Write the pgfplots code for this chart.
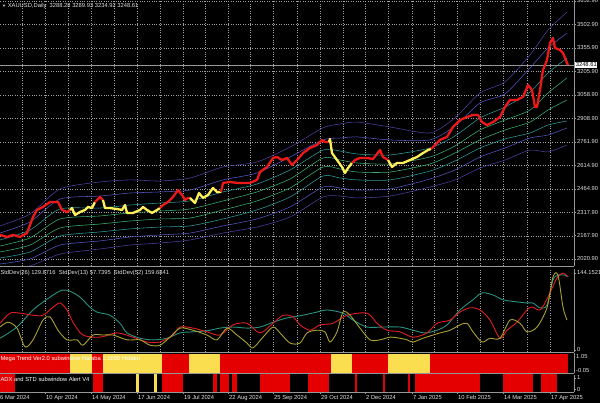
\documentclass[border=0pt]{standalone}
\usepackage{pgfplots}
\pgfplotsset{compat=1.18}
\usepackage{fontspec}
\setmainfont{Liberation Sans}

\definecolor{bandpurple}{RGB}{80,60,160}
\definecolor{bandblue}{RGB}{85,85,195}
\definecolor{bandteal}{RGB}{45,155,155}
\definecolor{bandgreen}{RGB}{60,175,115}
\definecolor{candred}{RGB}{235,25,25}
\definecolor{candyel}{RGB}{255,240,90}
\definecolor{sdteal}{RGB}{40,145,130}
\definecolor{sdred}{RGB}{225,30,30}
\definecolor{sdolive}{RGB}{170,160,50}
\definecolor{mtred}{RGB}{228,0,0}
\definecolor{mtyel}{RGB}{250,222,80}
\definecolor{txt}{RGB}{225,225,225}
\definecolor{frame}{RGB}{150,150,150}

\newcommand\mtfont{\fontsize{5.8}{7}\selectfont}

\pgfplotsset{
  mt/.style={
    scale only axis, width=576pt, xmin=-2, xmax=574,
    anchor=south west,
    axis x line=bottom, axis y line=right,
    axis line style={draw=frame, line width=0.8pt},
    x axis line style={-}, y axis line style={-},
    tick style={draw=frame, line width=0.5pt},
    tick align=outside, major tick length=2pt,
    tick label style={font=\mtfont, text=txt},
    yticklabel style={anchor=west, inner sep=1pt},
    xtick={-1,45,91,137,183,228,273,320,365,412,457,503,550},
    minor xtick={22,68,114,160,205,250,297,343,388,434,480,527},
    grid style={draw=gray!75, line width=0.4pt, dash pattern=on 0.8pt off 1.6pt},
  },
  nox/.style={xticklabel={\mbox{}}, major x tick style={draw=none}, minor x tick style={draw=none}},
  band/.style={line width=0.55pt, smooth, tension=0.4},
  price/.style={line width=2.3pt, line join=round},
  sd/.style={line width=0.9pt, smooth, tension=0.5},
}

\begin{document}
\begin{tikzpicture}[x=1pt,y=1pt]
\clip (0,0) rectangle (600,403);
\fill[black] (0,0) rectangle (600,403);

% ---------- price window ----------
\begin{axis}[mt, nox, at={(-2pt,137pt)}, height=266pt,
  ymin=1976.5, ymax=3659.2,
  ytick={2020.9,2167.9,2317.9,2464.9,2614.9,2761.9,2908.9,3058.9,3205.9,3355.9,3502.9,3652.9},
  yticklabels={2020.90,2167.90,2317.90,2464.90,2614.90,2761.90,2908.90,3058.90,3205.90,3355.90,3502.90,3652.90},
  xmajorgrids, xminorgrids, ymajorgrids]

% bands, top to bottom
\addplot[band, bandpurple] coordinates {(0,2230)(30,2305)(60,2464)(100,2508)(130,2521)(160,2514)(190,2533)(223,2603)(257,2634)(290,2729)(323,2850)(340,2875)(357,2887)(390,2856)(430,2818)(455,2913)(480,3071)(505,3141)(530,3311)(548,3469)(567,3583)};
\addplot[band, bandblue] coordinates {(0,2185)(30,2255)(60,2400)(100,2419)(130,2438)(160,2445)(190,2457)(223,2521)(257,2565)(290,2666)(323,2774)(340,2786)(357,2793)(390,2774)(430,2774)(455,2862)(480,3008)(505,3065)(530,3229)(548,3356)(567,3450)};
\addplot[band, bandteal] coordinates {(0,2141)(30,2204)(60,2337)(100,2343)(130,2362)(160,2375)(190,2388)(223,2445)(257,2495)(290,2584)(323,2710)(340,2704)(357,2685)(390,2679)(430,2723)(455,2799)(480,2913)(505,2982)(530,3077)(548,3197)(567,3292)};
\addplot[band, bandgreen] coordinates {(0,2103)(30,2154)(60,2274)(100,2293)(130,2312)(160,2324)(190,2337)(223,2388)(257,2445)(290,2527)(323,2660)(340,2647)(357,2628)(390,2622)(430,2666)(455,2736)(480,2837)(505,2900)(530,2963)(548,3071)(567,3166)};
\addplot[band, bandgreen] coordinates {(0,2065)(30,2109)(60,2217)(100,2242)(130,2261)(160,2274)(190,2280)(223,2331)(257,2388)(290,2470)(323,2603)(340,2590)(357,2571)(390,2571)(430,2622)(455,2691)(480,2774)(505,2837)(530,2887)(548,2963)(567,3027)};
\addplot[band, bandteal] coordinates {(0,2027)(30,2065)(60,2166)(100,2192)(130,2211)(160,2223)(190,2230)(223,2274)(257,2331)(290,2413)(323,2546)(340,2533)(357,2521)(390,2521)(430,2577)(455,2641)(480,2723)(505,2780)(530,2818)(548,2868)(567,2894)};
\addplot[band, bandblue] coordinates {(0,1989)(30,2021)(60,2109)(100,2135)(130,2160)(160,2173)(190,2185)(223,2230)(257,2274)(290,2350)(323,2476)(340,2470)(357,2457)(390,2464)(430,2527)(455,2584)(480,2666)(505,2723)(530,2786)(548,2805)(567,2850)};
\addplot[band, bandpurple] coordinates {(0,1951)(30,1977)(60,2052)(100,2084)(130,2109)(160,2122)(190,2141)(223,2185)(257,2223)(290,2286)(323,2413)(340,2419)(357,2407)(390,2419)(430,2476)(455,2521)(480,2596)(505,2647)(530,2710)(548,2698)(567,2742)};

% last price line
\addplot[frame, line width=0.7pt] coordinates {(-2,3248.61)(574,3248.61)};

% price, coloured by trend
\addplot[price, candred] coordinates {(0,2173)(7,2160)(13,2173)(20,2160)(27,2185)(30,2236)(33,2286)(37,2331)(43,2350)(50,2381)(58,2381)(62,2331)(67,2318)(70,2331)};
\addplot[price, candyel] coordinates {(70,2331)(72,2343)(75,2299)(80,2318)(85,2331)(88,2350)(92,2343)(95,2381)};
\addplot[price, candred] coordinates {(95,2381)(100,2413)(103,2394)};
\addplot[price, candyel] coordinates {(103,2394)(105,2343)(110,2343)(117,2337)(122,2331)(125,2362)(127,2312)(133,2312)(140,2331)(143,2350)(147,2331)(152,2312)(157,2331)(160,2343)};
\addplot[price, candred] coordinates {(160,2343)(163,2362)(168,2381)(173,2413)(178,2457)(182,2426)(185,2394)(188,2407)(190,2407)};
\addplot[price, candyel] coordinates {(190,2407)(192,2394)(195,2375)(199,2438)(203,2407)(208,2426)(213,2470)(217,2445)(221,2445)};
\addplot[price, candred] coordinates {(221,2445)(223,2502)(230,2508)(237,2502)(243,2502)(250,2502)(257,2521)(260,2571)(267,2603)(273,2660)(277,2666)(282,2647)(287,2660)(292,2615)(297,2647)(303,2691)(310,2723)(317,2742)(322,2774)(325,2761)(329,2761)};
\addplot[price, candyel] coordinates {(329,2761)(330,2780)(332,2691)(337,2647)(342,2603)(345,2565)(348,2596)(352,2628)};
\addplot[price, candred] coordinates {(352,2628)(355,2647)(360,2660)(367,2660)(373,2653)(380,2710)(383,2666)(388,2647)};
\addplot[price, candyel] coordinates {(388,2647)(392,2603)(397,2628)(403,2628)(410,2647)(417,2666)(423,2691)(428,2710)(431,2717)};
\addplot[price, candred] coordinates {(431,2717)(433,2729)(440,2774)(447,2793)(453,2856)(460,2900)(467,2919)(473,2932)(478,2932)(482,2887)(487,2868)(493,2887)(500,2919)(505,2982)(510,3027)(517,3027)(523,3046)(528,3121)(532,3090)(535,2982)(537,2982)(540,3090)(543,3216)(547,3280)(550,3387)(553,3419)(555,3356)(560,3343)(563,3324)(567,3261)(568,3248)};

\node[anchor=north west, inner sep=0pt, font=\mtfont, text=txt] at (rel axis cs:0.007,0.99) {\fontsize{4}{5}\selectfont▼\mtfont\ XAUUSD,Daily\ \ 3288.28 3289.93 3234.92 3248.61};
\end{axis}
\node[anchor=west, fill=white, text=black, inner sep=0.6pt, font=\mtfont] at (575,338) {3248.61};

% ---------- StdDev window ----------
\begin{axis}[mt, nox, at={(-2pt,51pt)}, height=83pt,
  ymin=-3.74, ymax=151.64,
  ytick={0,144.1521}, yticklabels={0,144.1521},
  xmajorgrids, xminorgrids]
\addplot[sd, sdteal] coordinates {(0,22)(17,43)(33,75)(50,99)(62,112)(70,110)(80,99)(90,80)(97,71)(110,65)(120,50)(127,32)(140,22)(153,19)(167,22)(180,32)(193,34)(207,36)(220,41)(233,43)(247,41)(260,43)(273,52)(287,60)(300,64)(317,71)(327,75)(343,69)(353,56)(367,43)(383,43)(400,43)(413,37)(425,32)(437,37)(447,47)(460,75)(473,94)(482,107)(493,103)(503,94)(517,90)(527,88)(533,88)(540,79)(547,84)(553,131)(558,140)(565,140)(567,137)};
\addplot[sd, sdred] coordinates {(0,50)(10,69)(20,69)(33,65)(43,65)(53,80)(60,88)(67,75)(73,52)(83,28)(100,24)(117,32)(133,24)(147,15)(160,15)(173,28)(180,43)(193,41)(207,34)(220,28)(233,47)(247,50)(260,32)(273,50)(283,65)(293,62)(300,47)(310,37)(320,47)(333,50)(347,65)(367,69)(377,50)(387,37)(400,34)(413,24)(427,32)(437,50)(450,56)(460,71)(470,79)(480,75)(490,56)(500,22)(507,37)(517,52)(530,80)(540,75)(548,99)(557,135)(563,144)(568,137)};
\addplot[sd, sdolive] coordinates {(0,43)(8,52)(17,41)(25,6)(33,19)(43,56)(50,62)(58,37)(67,19)(77,19)(83,9)(93,28)(103,28)(113,28)(127,19)(140,19)(150,9)(160,9)(170,24)(180,41)(193,37)(207,28)(217,19)(227,41)(237,28)(247,13)(253,4)(263,24)(273,43)(280,32)(290,13)(300,13)(307,32)(317,37)(325,34)(330,15)(337,34)(343,71)(350,65)(360,41)(370,19)(380,19)(390,24)(400,22)(407,19)(413,15)(423,22)(433,28)(440,32)(450,37)(460,47)(467,50)(473,34)(482,15)(490,22)(500,22)(510,56)(520,50)(527,34)(537,43)(547,79)(553,137)(558,140)(563,80)(567,56)};
\node[anchor=west, inner sep=0pt, font=\mtfont, text=txt] at (rel axis cs:0.004,0.95) {StdDev(26) 129.8716\ \ StdDev(13) 57.7395\ \ StdDev(52) 159.6841};
\end{axis}

% ---------- Mega Trend window ----------
\begin{axis}[mt, nox, at={(-2pt,30pt)}, height=20pt,
  ymin=-0.05, ymax=1.05, ytick=\empty]
\addplot[fill=mtred, draw=none] coordinates {(-2,-1)(-2,1)(70,1)(70,-1)} -- cycle;
\addplot[fill=mtyel, draw=none] coordinates {(70,-1)(70,1)(92,1)(92,-1)} -- cycle;
\addplot[fill=mtred, draw=none] coordinates {(92,-1)(92,1)(103,1)(103,-1)} -- cycle;
\addplot[fill=mtyel, draw=none] coordinates {(103,-1)(103,1)(162,1)(162,-1)} -- cycle;
\addplot[fill=mtred, draw=none] coordinates {(162,-1)(162,1)(189,1)(189,-1)} -- cycle;
\addplot[fill=mtyel, draw=none] coordinates {(189,-1)(189,1)(220,1)(220,-1)} -- cycle;
\addplot[fill=mtred, draw=none] coordinates {(220,-1)(220,1)(331,1)(331,-1)} -- cycle;
\addplot[fill=mtyel, draw=none] coordinates {(331,-1)(331,1)(352,1)(352,-1)} -- cycle;
\addplot[fill=mtred, draw=none] coordinates {(352,-1)(352,1)(388,1)(388,-1)} -- cycle;
\addplot[fill=mtyel, draw=none] coordinates {(388,-1)(388,1)(430,1)(430,-1)} -- cycle;
\addplot[fill=mtred, draw=none] coordinates {(430,-1)(430,1)(568,1)(568,-1)} -- cycle;
\node[anchor=west, inner sep=0pt, font=\mtfont, text=white] at (rel axis cs:0.004,0.72) {Mega Trend Ver2.0 subwindow Haraba 1.1000 Hidden};
\end{axis}
\node[anchor=north west, inner sep=1pt, font=\mtfont, text=txt] at (575,50) {1.05};
\node[anchor=south west, inner sep=1pt, font=\mtfont, text=txt] at (575,29) {-0.05};

% ---------- ADX window ----------
\begin{axis}[mt, at={(-2pt,11pt)}, height=17pt,
  ymin=-0.27, ymax=1.27, ytick={0,1}, yticklabels={0,1},
  minor x tick style={draw=none},
  xticklabels={6 Mar 2024,10 Apr 2024,14 May 2024,17 Jun 2024,19 Jul 2024,22 Aug 2024,25 Sep 2024,29 Oct 2024,2 Dec 2024,7 Jan 2025,10 Feb 2025,14 Mar 2025,17 Apr 2025},
  xticklabel style={anchor=north west, inner sep=1pt}]
\addplot[fill=mtred, draw=none] coordinates {(-2,-1)(-2,2)(15,2)(15,-1)} -- cycle;
\addplot[fill=mtred, draw=none] coordinates {(93,-1)(93,2)(103,2)(103,-1)} -- cycle;
\addplot[fill=mtyel, draw=none] coordinates {(136,-1)(136,2)(139,2)(139,-1)} -- cycle;
\addplot[fill=mtyel, draw=none] coordinates {(154,-1)(154,2)(156.5,2)(156.5,-1)} -- cycle;
\addplot[fill=mtred, draw=none] coordinates {(162,-1)(162,2)(183,2)(183,-1)} -- cycle;
\addplot[fill=mtred, draw=none] coordinates {(213,-1)(213,2)(217,2)(217,-1)} -- cycle;
\addplot[fill=mtred, draw=none] coordinates {(220,-1)(220,2)(229,2)(229,-1)} -- cycle;
\addplot[fill=mtred, draw=none] coordinates {(232,-1)(232,2)(237,2)(237,-1)} -- cycle;
\addplot[fill=mtred, draw=none] coordinates {(260,-1)(260,2)(290,2)(290,-1)} -- cycle;
\addplot[fill=mtred, draw=none] coordinates {(308,-1)(308,2)(329,2)(329,-1)} -- cycle;
\addplot[fill=mtred, draw=none] coordinates {(355,-1)(355,2)(357,2)(357,-1)} -- cycle;
\addplot[fill=mtred, draw=none] coordinates {(383,-1)(383,2)(385,2)(385,-1)} -- cycle;
\addplot[fill=mtred, draw=none] coordinates {(408,-1)(408,2)(410,2)(410,-1)} -- cycle;
\addplot[fill=mtred, draw=none] coordinates {(415,-1)(415,2)(480,2)(480,-1)} -- cycle;
\addplot[fill=mtred, draw=none] coordinates {(503,-1)(503,2)(533,2)(533,-1)} -- cycle;
\addplot[fill=mtred, draw=none] coordinates {(541,-1)(541,2)(557,2)(557,-1)} -- cycle;
\node[anchor=west, inner sep=0pt, font=\mtfont, text=white] at (rel axis cs:0.004,0.75) {ADX and STD subwindow Alert V4};
\end{axis}
\end{tikzpicture}
\end{document}
